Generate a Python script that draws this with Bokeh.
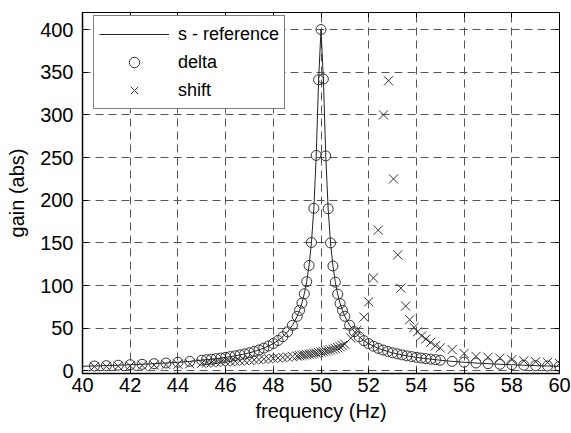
from bokeh.plotting import figure
from bokeh.models import LinearAxis, FixedTicker, Range1d, CustomJSTickFormatter
from bokeh.embed import file_html
from bokeh.resources import INLINE

# ---- data ----
delta_freq = [40.5, 41.0, 41.5, 42.0, 42.5, 43.0, 43.5, 44.0, 44.5,
              45.0, 45.2, 45.4, 45.6, 45.8, 46.0, 46.2, 46.4, 46.6, 46.8,
              47.0, 47.2, 47.4, 47.6, 47.8, 48.0, 48.2, 48.4, 48.6, 48.8,
              49.0, 49.1, 49.2, 49.3, 49.4, 49.5, 49.6, 49.7, 49.8, 49.9,
              50.0, 50.1, 50.2, 50.3, 50.4, 50.5, 50.6, 50.7, 50.8, 50.9, 51.0,
              51.2, 51.4, 51.6, 51.8, 52.0, 52.2, 52.4, 52.6, 52.8, 53.0,
              53.2, 53.4, 53.6, 53.8, 54.0, 54.2, 54.4, 54.6, 54.8, 55.0,
              55.5, 56.0, 56.5, 57.0, 57.5, 58.0, 58.5, 59.0, 59.5, 60.0]
delta_gain = [5.8, 6.2, 6.7, 7.3, 7.8, 8.5, 9.3, 10.2, 11.2,
              12.6, 13.2, 13.8, 14.4, 15.1, 15.9, 16.8, 17.7, 18.8, 20.0,
              21.3, 22.8, 24.6, 26.7, 29.2, 32.1, 35.7, 40.1, 45.9, 53.4,
              64.0, 70.9, 79.5, 90.4, 104.6, 123.6, 150.5, 190.6, 252.6, 341.2,
              400.0, 342.0, 252.0, 190.0, 150.0, 123.0, 104.0, 90.0, 79.0, 71.0, 64.0,
              53.5, 46.0, 40.0, 35.5, 32.0, 29.0, 26.5, 24.5, 22.8, 21.2,
              20.0, 18.8, 17.7, 16.8, 15.9, 15.1, 14.4, 13.8, 13.2, 12.6,
              11.2, 10.2, 9.3, 8.5, 7.8, 7.3, 6.7, 6.2, 5.8, 5.5]

ref_freq = [40.0] + delta_freq
ref_gain = [5.5] + delta_gain

shift_freq = [40.5, 41.0, 41.5, 42.0, 42.5, 43.0, 43.5, 44.0, 44.5,
              45.0, 45.2, 45.4, 45.6, 45.8, 46.0, 46.2, 46.4, 46.6, 46.8,
              47.0, 47.2, 47.4, 47.6, 47.8, 48.0, 48.2, 48.4, 48.6, 48.8,
              49.0, 49.1, 49.2, 49.3, 49.4, 49.5, 49.6, 49.7, 49.8, 49.9,
              50.0, 50.1, 50.2, 50.3, 50.4, 50.5, 50.6, 50.7, 50.8, 50.9, 51.0,
              51.25, 51.5, 51.8, 52.0, 52.2, 52.4, 52.62, 52.83, 53.04, 53.22,
              53.35, 53.55, 53.72, 53.9, 54.05, 54.22, 54.4, 54.6, 54.8, 55.0,
              55.5, 56.0, 56.5, 57.0, 57.5, 58.0, 58.5, 59.0, 59.5, 60.0]
shift_gain = [5.0, 5.3, 5.6, 6.0, 6.4, 6.8, 7.3, 7.8, 8.4,
              9.0, 9.3, 9.6, 10.0, 10.3, 10.6, 11.0, 11.3, 11.7, 12.1,
              12.5, 12.9, 13.3, 13.8, 14.2, 14.7, 15.2, 15.7, 16.3, 16.9,
              17.5, 17.9, 18.3, 18.7, 19.1, 19.5, 20.0, 20.5, 21.0, 21.5,
              22.0, 22.6, 23.2, 23.9, 24.6, 25.4, 26.3, 27.3, 28.4, 29.7, 31.2,
              38.5, 47.5, 63.0, 81.0, 109.0, 165.0, 300.0, 340.0, 225.0, 136.0,
              97.0, 76.0, 60.0, 51.0, 46.0, 41.0, 37.5, 33.5, 29.5, 27.0,
              25.0, 20.5, 17.0, 16.0, 15.0, 13.3, 11.8, 10.8, 10.0, 8.8]

x_ticks = [40, 42, 44, 46, 48, 50, 52, 54, 56, 58, 60]
y_ticks = [0, 50, 100, 150, 200, 250, 300, 350, 400]

FONT = "Liberation Sans"

p = figure(width=571, height=428, output_backend="svg", toolbar_location=None,
           x_range=Range1d(40, 60), y_range=Range1d(-3, 420),
           min_border_left=82, min_border_right=12, min_border_top=12,
           min_border_bottom=55)
p.background_fill_color = "white"
p.border_fill_color = "white"
p.outline_line_color = "black"
p.outline_line_width = 1

xt = FixedTicker(ticks=x_ticks)
yt = FixedTicker(ticks=y_ticks)

for ax, t in ((p.xaxis[0], xt), (p.yaxis[0], yt)):
    ax.ticker = t
    ax.major_tick_in = 5
    ax.major_tick_out = 0
    ax.minor_tick_line_color = None
    ax.axis_line_color = "black"
    ax.axis_line_width = 1.5
    ax.major_tick_line_color = "black"
    ax.major_label_text_font = FONT
    ax.major_label_text_font_size = "20px"
    ax.major_label_text_color = "black"
    ax.axis_label_text_font = FONT
    ax.axis_label_text_font_size = "20px"
    ax.axis_label_text_font_style = "normal"
    ax.axis_label_text_color = "black"

p.xaxis.axis_label = "frequency (Hz)"
p.yaxis.axis_label = "gain (abs)"
p.xaxis.major_label_standoff = 4
p.xaxis.axis_label_standoff = 5
p.yaxis.major_label_standoff = 9
p.yaxis.axis_label_standoff = 9

blank = CustomJSTickFormatter(code="return ''")
top = LinearAxis(ticker=xt, formatter=blank, major_tick_in=5, major_tick_out=0,
                 minor_tick_line_color=None, major_label_standoff=0,
                 axis_line_color="black", major_tick_line_color="black")
right = LinearAxis(ticker=yt, formatter=blank, major_tick_in=5, major_tick_out=0,
                   minor_tick_line_color=None, major_label_standoff=0,
                   axis_line_color="black", major_tick_line_color="black")
p.add_layout(top, "above")
p.add_layout(right, "right")

for g, t in ((p.xgrid[0], xt), (p.ygrid[0], yt)):
    g.ticker = t
    g.grid_line_color = "#555555"
    g.grid_line_dash = "8 5"
    g.grid_line_width = 1

p.line(ref_freq, ref_gain, line_color="#222222", line_width=1,
       legend_label="s - reference")
p.scatter(delta_freq, delta_gain, marker="circle", size=10, fill_color=None,
          line_color="#333333", line_width=1, legend_label="delta")
p.scatter(shift_freq, shift_gain, marker="x", size=13, line_color="#333333",
          line_width=1, legend_label="shift")

lg = p.legend[0]
lg.location = (11, 264)
lg.margin = 0
lg.padding = 5
lg.spacing = 2
lg.glyph_width = 70
lg.glyph_height = 26
lg.label_height = 26
lg.label_standoff = 9
lg.label_text_font = FONT
lg.label_text_font_size = "18px"
lg.label_text_color = "black"
lg.border_line_color = "black"
lg.border_line_width = 1
lg.background_fill_color = "white"
lg.background_fill_alpha = 1

open("out.html", "w").write(file_html(p, INLINE))
